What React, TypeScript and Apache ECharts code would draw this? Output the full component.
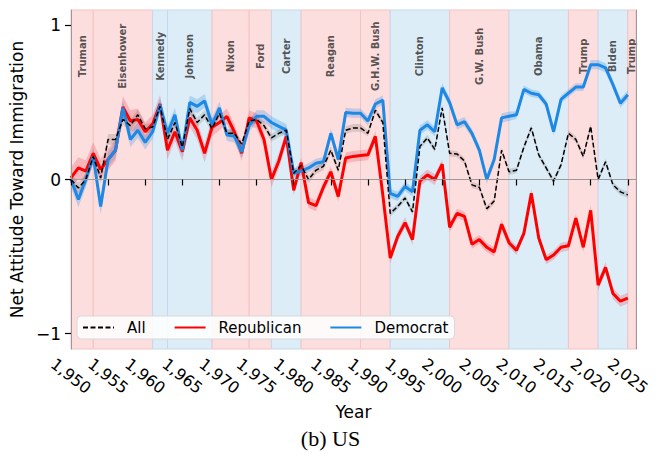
import React, { useEffect, useRef } from "react";
import * as echarts from "echarts";

const years = [
  1950, 1951, 1952, 1953, 1954, 1955, 1956, 1957, 1958, 1959,
  1960, 1961, 1962, 1963, 1964, 1965, 1966, 1967, 1968, 1969,
  1970, 1971, 1972, 1973, 1974, 1975, 1976, 1977, 1978, 1979,
  1980, 1981, 1982, 1983, 1984, 1985, 1986, 1987, 1988, 1989,
  1990, 1991, 1992, 1993, 1994, 1995, 1996, 1997, 1998, 1999,
  2000, 2001, 2002, 2003, 2004, 2005, 2006, 2007, 2008, 2009,
  2010, 2011, 2012, 2013, 2014, 2015, 2016, 2017, 2018, 2019,
  2020, 2021, 2022, 2023, 2024, 2025,
];

const republican = [
  0.01, 0.075, 0.055, 0.17, 0.065, 0.13, 0.19, 0.47, 0.38, 0.39,
  0.31, 0.36, 0.49, 0.19, 0.31, 0.18, 0.40, 0.32, 0.17, 0.34,
  0.37, 0.41, 0.31, 0.17, 0.40, 0.38, 0.26, 0.0, 0.12, 0.28,
  -0.07, 0.11, -0.15, -0.17, -0.05, 0.05, -0.11, 0.14, 0.15, 0.155,
  0.16, 0.28, -0.1, -0.51, -0.37, -0.28, -0.39, -0.01, 0.03, 0.0,
  0.10, -0.31, -0.22, -0.24, -0.42, -0.39, -0.44, -0.47, -0.29, -0.41,
  -0.46, -0.35, -0.09, -0.38, -0.52, -0.49, -0.44, -0.43, -0.25, -0.44,
  -0.2, -0.685, -0.57, -0.74, -0.79, -0.77,
];

const democrat = [
  0.0, -0.13, 0.0, 0.15, -0.175, 0.13, 0.19, 0.465, 0.26, 0.32,
  0.24, 0.31, 0.485, 0.30, 0.42, 0.19, 0.50, 0.475, 0.51, 0.355,
  0.465, 0.29, 0.28, 0.18, 0.35, 0.41, 0.41, 0.37, 0.345, 0.32,
  0.04, 0.055, 0.075, 0.105, 0.115, 0.30, 0.13, 0.435, 0.43, 0.43,
  0.38, 0.49, 0.515, -0.09, -0.11, -0.045, -0.08, 0.32, 0.355, 0.31,
  0.595, 0.5, 0.355, 0.375, 0.30, 0.19, 0.0, 0.13, 0.40, 0.41,
  0.42, 0.585, 0.56, 0.55, 0.49, 0.31, 0.52, 0.56, 0.60, 0.60,
  0.745, 0.745, 0.725, 0.615, 0.495, 0.55,
];

const allNet = [
  0.0, -0.055, 0.0, 0.15, 0.01, 0.26, 0.26, 0.39, 0.35, 0.42,
  0.33, 0.34, 0.475, 0.26, 0.37, 0.21, 0.46, 0.37, 0.42, 0.33,
  0.43, 0.30, 0.30, 0.23, 0.38, 0.39, 0.35, 0.27, 0.30, 0.32,
  0.04, 0.09, 0.0, 0.06, 0.085, 0.19, 0.06, 0.32, 0.335, 0.335,
  0.30, 0.45, 0.37, -0.22, -0.175, -0.12, -0.21, 0.215, 0.27, 0.195,
  0.465, 0.17, 0.165, 0.12, -0.035, -0.05, -0.19, -0.14, 0.19, 0.05,
  0.06, 0.21, 0.335, 0.16, 0.075, -0.01, 0.095, 0.30, 0.26, 0.15,
  0.345, 0.0, 0.115, -0.035, -0.08, -0.1,
];

// confidence half-widths per decade (1950s ... 2020s)
const ciRepublican = [0.07, 0.06, 0.05, 0.035, 0.035, 0.03, 0.03, 0.035];
const ciDemocrat = [0.05, 0.045, 0.04, 0.03, 0.03, 0.03, 0.025, 0.03];
const ciAll = [0.035, 0.03, 0.025, 0.025, 0.02, 0.02, 0.02, 0.02];

const presidents = [
  "Truman", "Eisenhower", "Kennedy", "Johnson", "Nixon", "Ford", "Carter",
  "Reagan", "G.H.W. Bush", "Clinton", "G.W. Bush", "Obama", "Trump", "Biden", "Trump",
];
const termStart = [1950, 1953, 1961, 1963, 1969, 1974, 1977, 1981, 1989, 1993, 2001, 2009, 2017, 2021, 2025];
const termEnd = [1953, 1961, 1963, 1969, 1974, 1977, 1981, 1989, 1993, 2001, 2009, 2017, 2021, 2025, 2026.1];
// band colour as shown in the reference
const termParty = ["R", "R", "D", "D", "R", "R", "D", "R", "R", "D", "R", "D", "R", "D", "R"];

const xTicks = [1950, 1955, 1960, 1965, 1970, 1975, 1980, 1985, 1990, 1995, 2000, 2005, 2010, 2015, 2020, 2025];
const yTicks = [-1, 0, 1];

const FONT = "DejaVu Sans";
const RED = "#ff0000";
const BLUE = "#1e88e5";

function ciFor(ci: number[], y: number) {
  return ci[Math.min(ci.length - 1, Math.floor((y - 1950) / 10))];
}

function ciSeries(vals: number[], ci: number[], color: string) {
  return {
    type: "custom",
    silent: true,
    z: 1,
    clip: true,
    data: [[years[0], vals[0]]],
    renderItem: (_params: any, api: any) => {
      const upper = years.map((y, i) => api.coord([y, vals[i] + ciFor(ci, y)]));
      const lower = years.map((y, i) => api.coord([y, vals[i] - ciFor(ci, y)])).reverse();
      return {
        type: "polygon",
        shape: { points: upper.concat(lower) },
        style: { fill: color, stroke: "none" },
      };
    },
  };
}

export default function App() {
  const ref = useRef<HTMLDivElement>(null);
  useEffect(() => {
    const chart = echarts.init(ref.current!, null, { renderer: "svg" });
    const bandMark = presidents.map((_, i) => [
      {
        xAxis: termStart[i],
        itemStyle: termParty[i] === "R"
          ? { color: "#fddede", borderColor: "#f5c3c3", borderWidth: 1 }
          : { color: "#ddedf8", borderColor: "#c3d9ec", borderWidth: 1 },
      },
      { xAxis: termEnd[i] },
    ]);
    const frameAxis = { show: true, lineStyle: { color: "#9a9a9a", width: 1 } };
    const option: any = {
      animation: false,
      textStyle: { fontFamily: FONT },
      title: {
        text: "(b) US",
        left: "center",
        top: 422,
        textStyle: { fontFamily: "Liberation Serif", fontSize: 22, fontWeight: "normal", color: "#000" },
      },
      legend: {
        data: ["All", "Republican", "Democrat"],
        left: 77,
        top: 316,
        padding: [4, 6, 4, 5],
        itemGap: 28,
        itemWidth: 31,
        itemHeight: 14,
        itemStyle: { opacity: 0 },
        backgroundColor: "rgba(255,255,255,0.85)",
        borderColor: "#d8d8d8",
        borderWidth: 1,
        borderRadius: 4,
        textStyle: { fontSize: 15, color: "#000", fontFamily: FONT, padding: [0, 0, 0, 8] },
      },
      grid: { left: 68, top: 10, width: 568, height: 339 },
      xAxis: [
        {
          type: "value",
          min: 1950,
          max: 2026.1,
          z: 10,
          axisLine: frameAxis,
          splitLine: { show: false },
          axisTick: { show: true, length: 6, lineStyle: { color: "#000", width: 1.2 }, customValues: xTicks },
          axisLabel: {
            customValues: xTicks,
            rotate: -38,
            align: "center",
            verticalAlign: "middle",
            fontSize: 16,
            color: "#000",
            margin: 27,
            fontFamily: FONT,
          },
          name: "Year",
          nameLocation: "middle",
          nameGap: 40,
          nameTextStyle: { fontSize: 17, color: "#000", fontFamily: FONT },
        },
        {
          type: "value",
          position: "top",
          min: 1950,
          max: 2026.1,
          z: 10,
          axisLine: frameAxis,
          axisTick: { show: false },
          axisLabel: { show: false },
          splitLine: { show: false },
        },
      ],
      yAxis: [
        {
          type: "value",
          min: -1.1,
          max: 1.1,
          z: 10,
          axisLine: frameAxis,
          splitLine: { show: false },
          axisTick: { show: true, length: 6, lineStyle: { color: "#000", width: 1.2 }, customValues: yTicks },
          axisLabel: {
            customValues: yTicks,
            fontSize: 17,
            color: "#000",
            margin: 10,
            fontFamily: FONT,
            formatter: (v: number) => (v < 0 ? "\u2212" + Math.abs(v) : String(v)),
          },
          name: "Net Attitude Toward Immigration",
          nameLocation: "middle",
          nameRotate: 90,
          nameGap: 33,
          nameTextStyle: { fontSize: 17, color: "#000", fontFamily: FONT },
        },
        {
          type: "value",
          position: "right",
          min: -1.1,
          max: 1.1,
          z: 10,
          axisLine: frameAxis,
          axisTick: { show: false },
          axisLabel: { show: false },
          splitLine: { show: false },
        },
      ],
      series: [
        {
          name: "terms",
          type: "line",
          data: [],
          silent: true,
          z: 0,
          markArea: { silent: true, data: bandMark },
        },
        {
          name: "zero",
          type: "line",
          data: [],
          silent: true,
          z: 0.5,
          markLine: {
            silent: true,
            symbol: ["none", "none"],
            label: { show: false },
            lineStyle: { color: "#8c8c8c", width: 1, type: "solid" },
            data: [{ yAxis: 0 }],
          },
        },
        ciSeries(republican, ciRepublican, "rgba(230,20,40,0.2)"),
        ciSeries(democrat, ciDemocrat, "rgba(30,136,229,0.25)"),
        ciSeries(allNet, ciAll, "rgba(0,0,0,0.12)"),
        {
          name: "Republican",
          type: "line",
          data: years.map((y, i) => [y, republican[i]]),
          symbol: "none",
          color: RED,
          lineStyle: { color: RED, width: 3 },
          z: 3,
        },
        {
          name: "Democrat",
          type: "line",
          data: years.map((y, i) => [y, democrat[i]]),
          symbol: "none",
          color: BLUE,
          lineStyle: { color: BLUE, width: 3 },
          z: 4,
        },
        {
          name: "All",
          type: "line",
          data: years.map((y, i) => [y, allNet[i]]),
          symbol: "none",
          color: "#000",
          lineStyle: { color: "#000", width: 1.5, type: [5, 2.5] },
          z: 5,
        },
        {
          name: "presidents",
          type: "scatter",
          data: presidents.map((p, i) => ({ value: [(termStart[i] + termEnd[i]) / 2, 0.8], name: p })),
          symbolSize: 1,
          itemStyle: { color: "transparent" },
          silent: true,
          z: 6,
          label: {
            show: true,
            formatter: "{b}",
            position: "inside",
            rotate: 90,
            fontSize: 10,
            fontWeight: "bold",
            color: "#2b2b2b",
            fontFamily: FONT,
          },
        },
      ],
    };
    chart.setOption(option);
    return () => chart.dispose();
  }, []);
  return (
    <div
      ref={ref}
      style={{ position: "fixed", left: 0, top: 0, width: 661, height: 460, background: "#fff" }}
    />
  );
}
